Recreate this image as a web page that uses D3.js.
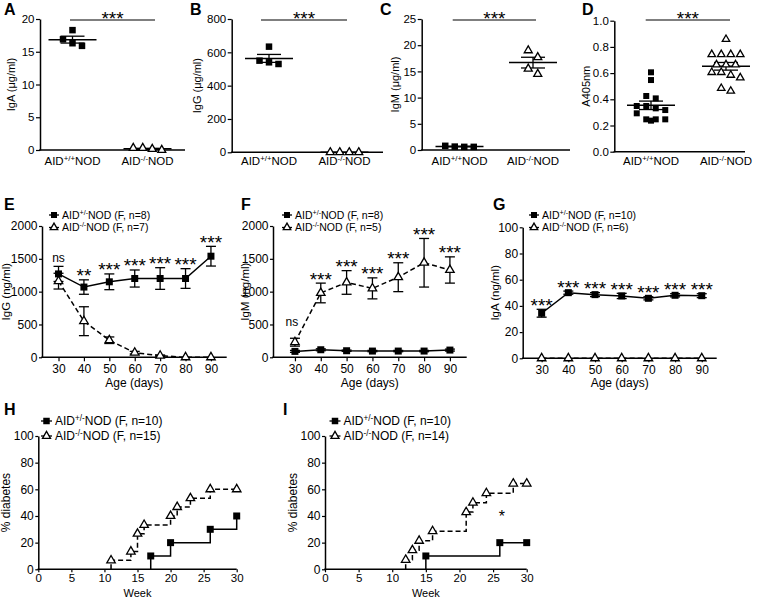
<!DOCTYPE html>
<html><head><meta charset="utf-8">
<script src="https://cdn.jsdelivr.net/npm/d3@7"></script>
<style>body{margin:0;background:#fff} text{font-family:"Liberation Sans",Arial,Helvetica,sans-serif;fill:#000}</style>
</head><body><svg id="c" width="764" height="599"></svg>
<script>
// ---------- DATA ----------
const categories = [["AID","+/+","NOD"],["AID","-/-","NOD"]];
const igA_wt = [18.3,16.9,16.3,15.9];
const igA_ko = [0.3,0.0,0.15,0.3];
const igG_wt = [634,550,530,540];
const igG_ko = [0,0,0,0];
const igM_wt = [0.6,0.6,0.65,0.8];
const igM_ko = [19.0,17.7,15.5,14.5];
const a405_wt = [0.606,0.547,0.425,0.407,0.349,0.349,0.331,0.318,0.293,0.247,0.247,0.247,0.237];
const a405_ko = [0.858,0.742,0.742,0.742,0.742,0.664,0.664,0.664,0.606,0.606,0.585,0.565,0.484,0.463];

const ages = [30,40,50,60,70,80,90];
const ageTicks = [30,40,50,60,70,80,90];
const eIgG_het = [1270,1070,1150,1200,1200,1200,1540];
const eIgG_hetSem = [115,110,120,130,165,150,150];
const eIgG_ko = [1160,550,260,70,25,0,0];
const eIgG_koSem = [120,220,50,20,10,0,0];
const eSig = ["ns","**","***","***","***","***","***"];
const fIgM_het = [90,115,100,95,95,95,110];
const fIgM_hetSem = [15,15,10,10,10,10,15];
const fIgM_ko = [230,980,1140,1050,1220,1440,1330];
const fIgM_koSem = [60,150,180,160,220,370,200];
const fSig = ["ns","***","***","***","***","***","***"];
const gIgA_het = [34.4,50.1,48.6,47.6,45.8,48.1,47.8];
const gIgA_hetSem = [3,1.2,1.5,2,1.2,1.2,1.5];
const gIgA_ko = [0,0,0,0,0,0,0];
const gIgA_koSem = [0,0,0,0,0,0,0];
const gSig = ["***","***","***","***","***","***","***"];

const weekTicks = [0,5,10,15,20,25,30];
const pctTicks = [0,20,40,60,80,100];
const hWeek_het = [17,20,26,30], hPct_het = [10,20,30,40];
const hWeek_ko = [11,14,15,16,20,21,23,26,30], hPct_ko = [6.7,13.3,26.7,33.3,40,46.7,53.3,60,60];
const iWeek_het = [15,26,30], iPct_het = [10,20,20];
const iWeek_ko = [12,13,14,16,21,22,24,28,30], iPct_ko = [7.1,14.3,21.4,28.6,42.9,50,57.1,64.3,64.3];

// ---------- HELPERS ----------
const svg = d3.select("#c");
function supText(g, x, y, parts, fs, anchor){
  const t = g.append("text").attr("x",x).attr("y",y).attr("font-size",fs).attr("text-anchor",anchor||"start");
  t.append("tspan").text(parts[0]);
  t.append("tspan").attr("font-size",fs*0.68).attr("dy",-fs*0.38).text(parts[1]);
  t.append("tspan").attr("dy",fs*0.38).text(parts[2]);
  return t;
}
function letter(x,y,s){ svg.append("text").attr("x",x).attr("y",y).attr("font-size",16).attr("font-weight","bold").text(s); }
function yTitle(x,y,s,fs){ svg.append("text").attr("transform",`translate(${x},${y}) rotate(-90)`).attr("text-anchor","middle").attr("font-size",fs||11).text(s); }
function yAxis(scale,x,ticks,fmt,fs,ts,pad){
  const a = svg.append("g").attr("transform",`translate(${x},0)`)
    .call(d3.axisLeft(scale).tickValues(ticks).tickFormat(fmt).tickSize(ts).tickSizeOuter(0).tickPadding(pad));
  a.selectAll("text").attr("font-size",fs).style("fill","#000");
  a.select(".domain").attr("stroke-width",1.5).attr("stroke","#000");
  a.selectAll(".tick line").attr("stroke-width",1.2).attr("stroke","#000");
}
function xLine(x0,x1,y){ svg.append("line").attr("x1",x0-0.75).attr("x2",x1).attr("y1",y).attr("y2",y).attr("stroke","#000").attr("stroke-width",1.5); }
const sq = s=>d3.symbol(d3.symbolSquare, s*s)();
const tri = s=>d3.symbol(d3.symbolTriangle, 0.433*s*s)();
function marker(g,x,y,type,s){
  if(type==="sq") g.append("path").attr("d",sq(s)).attr("transform",`translate(${x},${y})`).attr("fill","#000");
  else g.append("path").attr("d",tri(s)).attr("transform",`translate(${x},${y})`).attr("fill","#fff").attr("stroke","#000").attr("stroke-width",1.3);
}
function rows(vals, y, thr, sp){
  const idx = vals.map((v,i)=>i).sort((a,b)=>y(vals[a])-y(vals[b]));
  const groups=[]; let cur=null;
  idx.forEach(i=>{ const yy=y(vals[i]); if(cur && yy-cur.start<thr) cur.m.push(i); else { cur={start:yy,m:[i]}; groups.push(cur);} });
  const off=new Array(vals.length);
  groups.forEach(g=>g.m.forEach((i,j)=>off[i]=(j-(g.m.length-1)/2)*sp));
  return off;
}

// ---------- TOP ROW (A-D) ----------
const topCfg = [
 {L:"A",lx:4,ax:40,c:[72.5,147.5],xEnd:185,yT:19,yB:150,max:20,ticks:[0,5,10,15,20],fmt:d3.format("d"),title:"IgA (μg/ml)",tx:15,wt:igA_wt,ko:igA_ko,sig:[70,155],ms:6.5},
 {L:"B",lx:190,ax:231.7,c:[269,344.5],xEnd:383,yT:19,yB:152.3,max:800,ticks:[0,200,400,600,800],fmt:d3.format("d"),title:"IgG (μg/ml)",tx:201,wt:igG_wt,ko:igG_ko,sig:[261,347],ms:6.5},
 {L:"C",lx:380,ax:421.7,c:[459.5,533],xEnd:570,yT:19,yB:150,max:25,ticks:[0,5,10,15,20,25],fmt:d3.format("d"),title:"IgM (μg/ml)",tx:399,wt:igM_wt,ko:igM_ko,sig:[452.7,536],ms:6.5},
 {L:"D",lx:582,ax:614.3,c:[651,726],xEnd:745,yT:20.7,yB:151.7,max:1,ticks:[0,.2,.4,.6,.8,1],fmt:d3.format(".1f"),title:"A405nm",tx:590,wt:a405_wt,ko:a405_ko,sig:[645.7,730],ms:6}
];
topCfg.forEach(p=>{
  const y = d3.scaleLinear().domain([0,p.max]).range([p.yB,p.yT]);
  letter(p.lx,14.5,p.L);
  yAxis(y,p.ax,p.ticks,p.fmt,11.5,4,1.5);
  xLine(p.ax,p.xEnd,p.yB);
  yTitle(p.tx,(p.yT+p.yB)/2,p.title,11);
  const g = svg.append("g");
  [p.wt,p.ko].forEach((vals,k)=>{
    const cx=p.c[k];
    const m=d3.mean(vals), sem=d3.deviation(vals)/Math.sqrt(vals.length)||0;
    g.append("line").attr("x1",cx-24).attr("x2",cx+24).attr("y1",y(m)).attr("y2",y(m)).attr("stroke","#000").attr("stroke-width",1.5);
    if(sem>0){
      g.append("line").attr("x1",cx).attr("x2",cx).attr("y1",y(m-sem)).attr("y2",y(m+sem)).attr("stroke","#000").attr("stroke-width",1.3);
      [m-sem,m+sem].forEach(v=>g.append("line").attr("x1",cx-12).attr("x2",cx+12).attr("y1",y(v)).attr("y2",y(v)).attr("stroke","#000").attr("stroke-width",1.3));
    }
    const off=rows(vals,y,7,9.5);
    vals.forEach((v,i)=>marker(g,cx+off[i],y(v),k===0?"sq":"tri",k===0?p.ms:p.ms+1.5));
    supText(svg,p.c[k],165,categories[k],11.5,"middle");
  });
  svg.append("line").attr("x1",p.sig[0]).attr("x2",p.sig[1]).attr("y1",20).attr("y2",20).attr("stroke","#000").attr("stroke-width",1.2);
  svg.append("text").attr("x",(p.sig[0]+p.sig[1])/2).attr("y",24.5).attr("text-anchor","middle").attr("font-size",19).text("***");
});

// ---------- MIDDLE ROW (E-G) ----------
const midCfg = [
 {L:"E",lx:4,ax:42,dom:[23.5,96.2],rng:[42,226.7],yT:226,yB:357.3,max:2000,ticks:[0,500,1000,1500,2000],title:"IgG (ng/ml)",tx:10,
  het:eIgG_het,hetSem:eIgG_hetSem,ko:eIgG_ko,koSem:eIgG_koSem,sig:eSig,nsOff:8,legX:62,leg:[["AID","+/-","NOD (F, n=8)"],["AID","-/-","NOD (F, n=7)"]]},
 {L:"F",lx:241,ax:273,dom:[21.5,96.5],rng:[273,466.7],yT:226,yB:357.3,max:2000,ticks:[0,500,1000,1500,2000],title:"IgM (ng/ml)",tx:249,
  het:fIgM_het,hetSem:fIgM_hetSem,ko:fIgM_ko,koSem:fIgM_koSem,sig:fSig,nsOff:16,legX:295,leg:[["AID","+/-","NOD (F, n=8)"],["AID","-/-","NOD (F, n=5)"]]},
 {L:"G",lx:493,ax:522.7,dom:[22.9,95.6],rng:[522.7,716.7],yT:227.3,yB:358.3,max:100,ticks:[0,20,40,60,80,100],title:"IgA (ng/ml)",tx:499,
  het:gIgA_het,hetSem:gIgA_hetSem,ko:gIgA_ko,koSem:gIgA_koSem,sig:gSig,nsOff:8,legX:542,leg:[["AID","+/-","NOD (F, n=10)"],["AID","-/-","NOD (F, n=6)"]]}
];
midCfg.forEach(p=>{
  const x = d3.scaleLinear().domain(p.dom).range(p.rng);
  const y = d3.scaleLinear().domain([0,p.max]).range([p.yB,p.yT]);
  letter(p.lx,210,p.L);
  yAxis(y,p.ax,p.ticks,d3.format("d"),12,3,1.5);
  const xa = svg.append("g").attr("transform",`translate(0,${p.yB})`)
    .call(d3.axisBottom(x).tickValues(ageTicks).tickFormat(d3.format("d")).tickSize(4).tickSizeOuter(0).tickPadding(3));
  xa.select(".domain").remove();
  xa.selectAll("text").attr("font-size",12).style("fill","#000");
  xa.selectAll(".tick line").attr("stroke","#000").attr("stroke-width",1.2);
  xLine(p.ax,p.rng[1],p.yB);
  yTitle(p.tx,(p.yT+p.yB)/2,p.title,11.5);
  svg.append("text").attr("x",(p.rng[0]+p.rng[1])/2).attr("y",387).attr("text-anchor","middle").attr("font-size",12).text("Age (days)");
  const g = svg.append("g");
  const line = d3.line().x((d,i)=>x(ages[i])).y(d=>y(d));
  g.append("path").attr("d",line(p.ko)).attr("fill","none").attr("stroke","#000").attr("stroke-width",1.5).attr("stroke-dasharray","5,3");
  g.append("path").attr("d",line(p.het)).attr("fill","none").attr("stroke","#000").attr("stroke-width",1.5);
  [[p.het,p.hetSem],[p.ko,p.koSem]].forEach(([v,s])=>{
    v.forEach((m,i)=>{ if(s[i]>0){
      const cx=x(ages[i]);
      g.append("line").attr("x1",cx).attr("x2",cx).attr("y1",y(m-s[i])).attr("y2",y(m+s[i])).attr("stroke","#000").attr("stroke-width",1.3);
      [m-s[i],m+s[i]].forEach(t=>g.append("line").attr("x1",cx-5).attr("x2",cx+5).attr("y1",y(t)).attr("y2",y(t)).attr("stroke","#000").attr("stroke-width",1.3));
    }});
  });
  p.het.forEach((m,i)=>marker(g,x(ages[i]),y(m),"sq",7));
  p.ko.forEach((m,i)=>marker(g,x(ages[i]),y(m),"tri",8.5));
  p.sig.forEach((s,i)=>{
    const top = Math.max(p.het[i]+p.hetSem[i], p.ko[i]+p.koSem[i]);
    if(s==="ns") svg.append("text").attr("x",x(ages[i])-(p.nsOff>8?3:0)).attr("y",y(top)-p.nsOff+3.5).attr("text-anchor","middle").attr("font-size",12).text(s);
    else svg.append("text").attr("x",x(ages[i])).attr("y",y(top)-8+10.5).attr("text-anchor","middle").attr("font-size",19).text(s);
  });
  [0,1].forEach(k=>{
    const ly = 215+k*12.5;
    svg.append("line").attr("x1",p.legX-13).attr("x2",p.legX-3).attr("y1",ly).attr("y2",ly).attr("stroke","#000").attr("stroke-width",1.3);
    marker(svg,p.legX-8,ly,k===0?"sq":"tri",k===0?6:7.5);
    supText(svg,p.legX,ly+3.7,p.leg[k],10.5);
  });
});

// ---------- BOTTOM ROW (H-I) ----------
const botCfg = [
 {L:"H",lx:4,ax:38.3,x30:236.7,tx:10,wHet:hWeek_het,pHet:hPct_het,wKo:hWeek_ko,pKo:hPct_ko,legX:55,leg:[["AID","+/-","NOD (F, n=10)"],["AID","-/-","NOD (F, n=15)"]],star:null},
 {L:"I",lx:283,ax:325,x30:526.7,tx:297,wHet:iWeek_het,pHet:iPct_het,wKo:iWeek_ko,pKo:iPct_ko,legX:343.5,leg:[["AID","+/-","NOD (F, n=10)"],["AID","-/-","NOD (F, n=14)"]],star:[26.3,42]}
];
botCfg.forEach(p=>{
  const x = d3.scaleLinear().domain([0,30]).range([p.ax,p.x30]);
  const y = d3.scaleLinear().domain([0,100]).range([569.3,436]);
  letter(p.lx,415,p.L);
  yAxis(y,p.ax,pctTicks,d3.format("d"),12,3,1.5);
  const xa = svg.append("g").attr("transform",`translate(0,569.3)`)
    .call(d3.axisBottom(x).tickValues(weekTicks).tickFormat(d3.format("d")).tickSize(3).tickSizeOuter(0).tickPadding(1.5));
  xa.select(".domain").remove();
  xa.selectAll("text").attr("font-size",11.5).style("fill","#000");
  xa.selectAll(".tick line").attr("stroke","#000").attr("stroke-width",1.2);
  xLine(p.ax,p.x30,569.3);
  yTitle(p.tx,502.6,"% diabetes",12);
  svg.append("text").attr("x",(p.ax+p.x30)/2).attr("y",596.6).attr("text-anchor","middle").attr("font-size",11).text("Week");
  const g = svg.append("g");
  function step(w,v){ let d=`M${x(w[0])},${y(0)}`; let prev=0; w.forEach((wk,i)=>{ d+=`L${x(wk)},${y(prev)}L${x(wk)},${y(v[i])}`; prev=v[i]; }); return d; }
  g.append("path").attr("d",step(p.wKo,p.pKo)).attr("fill","none").attr("stroke","#000").attr("stroke-width",1.5).attr("stroke-dasharray","5,3");
  g.append("path").attr("d",step(p.wHet,p.pHet)).attr("fill","none").attr("stroke","#000").attr("stroke-width",1.5);
  p.wHet.forEach((w,i)=>marker(g,x(w),y(p.pHet[i]),"sq",7));
  p.wKo.forEach((w,i)=>marker(g,x(w),y(p.pKo[i]),"tri",8.5));
  if(p.star) svg.append("text").attr("x",x(p.star[0])).attr("y",y(p.star[1])+9).attr("text-anchor","middle").attr("font-size",16).text("*");
  [0,1].forEach(k=>{
    const ly = 421+k*15;
    svg.append("line").attr("x1",p.legX-14).attr("x2",p.legX-3).attr("y1",ly).attr("y2",ly).attr("stroke","#000").attr("stroke-width",1.3);
    marker(svg,p.legX-8.5,ly,k===0?"sq":"tri",k===0?6.5:8);
    supText(svg,p.legX,ly+4.2,p.leg[k],12);
  });
});
</script></body></html>
